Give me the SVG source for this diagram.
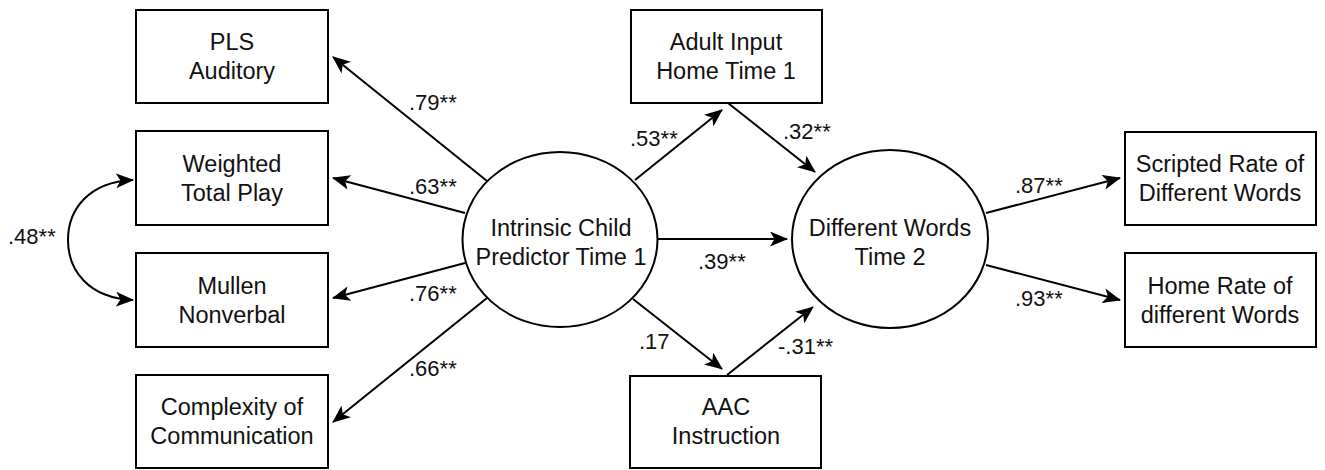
<svg xmlns="http://www.w3.org/2000/svg" width="1325" height="470" viewBox="0 0 1325 470">
<defs>
<marker id="ah" markerUnits="userSpaceOnUse" markerWidth="19" markerHeight="15" refX="17" refY="7.5" orient="auto-start-reverse" viewBox="0 0 19 15">
<path d="M0,0 L18,7.5 L0,15 L4.5,7.5 z" fill="#000"/>
</marker>
<style>
.box{fill:#fff;stroke:#000;stroke-width:2}
.t{font-family:"Liberation Sans",Arial,sans-serif;font-size:23.5px;fill:#111;text-anchor:middle}
.l{font-family:"Liberation Sans",Arial,sans-serif;font-size:22px;fill:#111}
.c{fill:none;stroke:#000;stroke-width:2;marker-end:url(#ah)}
</style>
</defs>
<rect width="1325" height="470" fill="#fff"/>
<g id="connectors">
<line class="c" x1="487" y1="181" x2="333" y2="57"/>
<line class="c" x1="465" y1="213" x2="333" y2="178"/>
<line class="c" x1="465" y1="263" x2="333" y2="298"/>
<line class="c" x1="487" y1="298" x2="333" y2="422"/>
<path class="c" style="marker-start:url(#ah)" d="M133 180 C 88 182, 68 210, 68 240 C 68 270, 88 298, 133 300"/>
<line class="c" x1="635" y1="180" x2="722" y2="110"/>
<line class="c" x1="728" y1="103" x2="815" y2="172"/>
<line class="c" x1="658" y1="239" x2="787" y2="239"/>
<line class="c" x1="633" y1="299" x2="722" y2="369"/>
<line class="c" x1="727" y1="375" x2="813" y2="307"/>
<line class="c" x1="986" y1="213" x2="1120" y2="178"/>
<line class="c" x1="986" y1="265" x2="1120" y2="300"/>
<text class="l" x="409" y="110">.79**</text>
<text class="l" x="409" y="194">.63**</text>
<text class="l" x="409" y="301">.76**</text>
<text class="l" x="409" y="376">.66**</text>
<text class="l" x="8" y="244">.48**</text>
<text class="l" x="630" y="146">.53**</text>
<text class="l" x="783" y="139">.32**</text>
<text class="l" x="698" y="269">.39**</text>
<text class="l" x="639" y="349">.17</text>
<text class="l" x="778" y="354">-.31**</text>
<text class="l" x="1015" y="193">.87**</text>
<text class="l" x="1015" y="306">.93**</text>
</g>
<g id="pls"><rect class="box" x="136" y="10" width="192" height="93"/><text class="t" x="232" y="50">PLS<tspan x="232" dy="29">Auditory</tspan></text></g>
<g id="weighted"><rect class="box" x="136" y="131" width="192" height="94"/><text class="t" x="232" y="172">Weighted<tspan x="232" dy="29">Total Play</tspan></text></g>
<g id="mullen"><rect class="box" x="136" y="253" width="192" height="94"/><text class="t" x="232" y="294">Mullen<tspan x="232" dy="29">Nonverbal</tspan></text></g>
<g id="complexity"><rect class="box" x="136" y="375" width="192" height="93"/><text class="t" x="232" y="415">Complexity of<tspan x="232" dy="29">Communication</tspan></text></g>
<g id="intrinsic"><ellipse class="box" cx="560" cy="239.5" rx="97.5" ry="87.5"/><text class="t" x="561" y="236">Intrinsic Child<tspan x="561" dy="29">Predictor Time 1</tspan></text></g>
<g id="adult"><rect class="box" x="631" y="10" width="191" height="93"/><text class="t" x="726" y="50">Adult Input<tspan x="726" dy="29">Home Time 1</tspan></text></g>
<g id="aac"><rect class="box" x="630" y="376" width="191" height="92"/><text class="t" x="726" y="415">AAC<tspan x="726" dy="29">Instruction</tspan></text></g>
<g id="different"><ellipse class="box" cx="890" cy="239" rx="98" ry="89"/><text class="t" x="890" y="236">Different Words<tspan x="890" dy="29">Time 2</tspan></text></g>
<g id="scripted"><rect class="box" x="1125" y="132" width="191" height="93"/><text class="t" x="1220" y="172">Scripted Rate of<tspan x="1220" dy="29">Different Words</tspan></text></g>
<g id="home"><rect class="box" x="1125" y="253" width="191" height="94"/><text class="t" x="1220" y="294">Home Rate of<tspan x="1220" dy="29">different Words</tspan></text></g>
</svg>
